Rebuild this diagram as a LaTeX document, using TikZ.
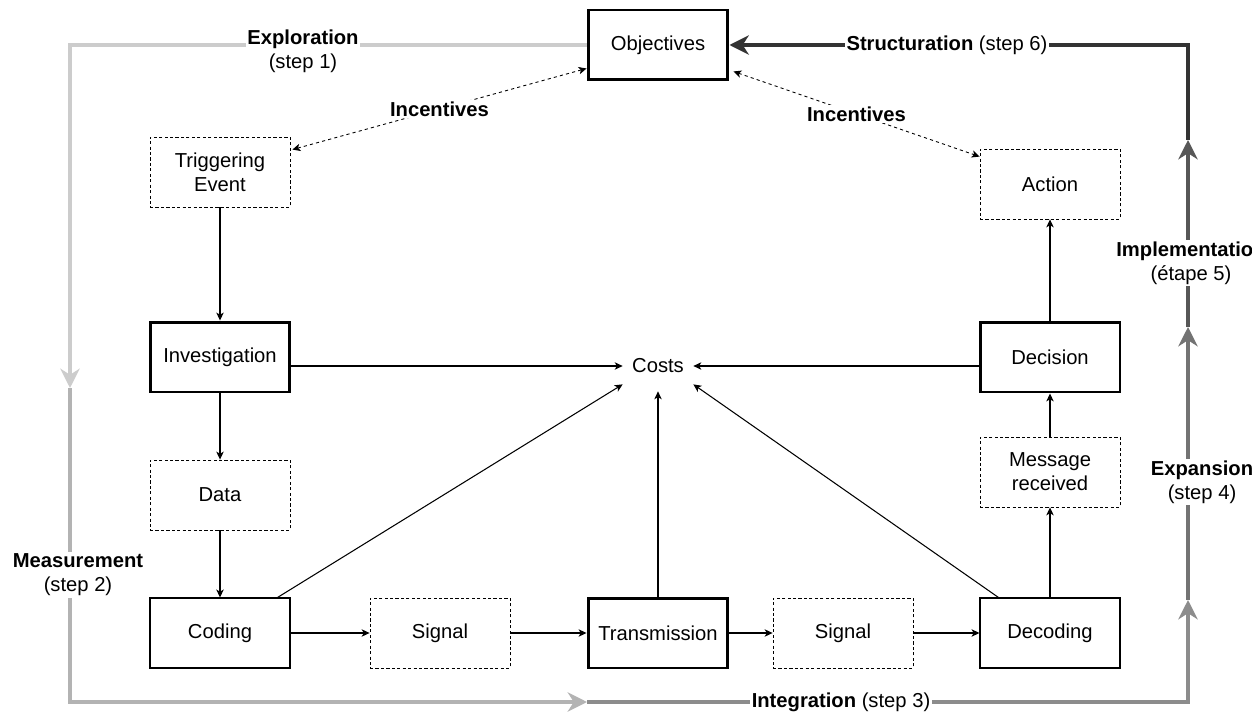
\documentclass[tikz,border=0pt]{standalone}
\usepackage{fontspec}
\setmainfont{Liberation Sans}
\usetikzlibrary{arrows.meta}

\definecolor{explorecol}{HTML}{CCCCCC}
\definecolor{measurecol}{HTML}{B3B3B3}
\definecolor{integratecol}{HTML}{8C8C8C}
\definecolor{expandcol}{HTML}{737373}
\definecolor{implementcol}{HTML}{575757}
\definecolor{structurecol}{HTML}{333333}

\begin{document}
\begin{tikzpicture}[x=0.02cm, y=-0.02cm,
    every node/.style={font=\fontsize{11.5}{13.5}\selectfont},
    box/.style={draw, line width=0.6pt, minimum width=2.8cm, minimum height=1.4cm, align=center, inner sep=2pt},
    keybox/.style={box, line width=1.7pt},
    softbox/.style={box, line width=0.5pt, dash pattern=on 1.8pt off 1.3pt},
    flow/.style={line width=0.6pt, -{Stealth[length=4.5pt, width=4.2pt, inset=1.2pt]}},
    incentive/.style={line width=0.5pt, dash pattern=on 1.8pt off 1.8pt,
        {Stealth[length=4.5pt, width=4.2pt, inset=1.2pt]}-{Stealth[length=4.5pt, width=4.2pt, inset=1.2pt]}},
    cycle/.style={line width=2pt, -{Stealth[length=11pt, width=11pt, inset=3.5pt]}},
    steplabel/.style={fill=white, inner sep=1pt, align=center}]

    \useasboundingbox (0, 0) rectangle (1252, 713);

    % boxes
    \node[keybox] (obj) at (658, 45) {Objectives};
    \node[softbox] (trig) at (220, 172) {Triggering\\Event};
    \node[softbox] (act) at (1050, 184) {Action};
    \node[keybox] (inv) at (220, 357) {Investigation};
    \node[keybox] (dcs) at (1050, 357) {Decision};
    \node[minimum width=1.4cm, minimum height=1cm] (cst) at (658, 366) {Costs};
    \node[softbox] (dat) at (220, 495) {Data};
    \node[softbox] (msg) at (1050, 472) {Message\\received};
    \node[box] (cod) at (220, 633) {Coding};
    \node[softbox] (sig1) at (440, 633) {Signal};
    \node[keybox] (trans) at (658, 633) {Transmission};
    \node[softbox] (sig2) at (843, 633) {Signal};
    \node[box] (dec) at (1050, 633) {Decoding};

    % outer cycle
    \coordinate (c1) at (70, 388);
    \coordinate (c2) at (587, 702);
    \coordinate (c3) at (1188, 600);
    \coordinate (c4) at (1188, 327);
    \coordinate (c5) at (1188, 140);

    \draw[cycle, explorecol] (obj.west) -| (c1);
    \draw[cycle, measurecol] (c1) |- (c2);
    \draw[cycle, integratecol] (c2) -| (c3);
    \draw[cycle, expandcol] (c3) -- (c4);
    \draw[cycle, implementcol] (c4) -- (c5);
    \draw[cycle, structurecol] (c5) |- (obj.east);

    \node[steplabel] (explore) at (303, 51) {\textbf{Exploration}\\(step 1)};
    \node[steplabel] (measure) at (78, 575) {\textbf{Measurement}\\(step 2)};
    \node[steplabel] (integrate) at (841, 702) {\textbf{Integration} (step 3)};
    \node[steplabel] (expand) at (1202, 482) {\textbf{Expansion}\\(step 4)};
    \node[steplabel] (implement) at (1191, 263) {\textbf{Implementation}\\(étape 5)};
    \node[steplabel] (structure) at (947, 45) {\textbf{Structuration} (step 6)};

    % incentives
    \draw[incentive] ([yshift=0.26cm]obj.south west) -- ([xshift=0.04cm, yshift=-0.26cm]trig.north east)
        node[midway, steplabel]{\textbf{Incentives}};
    \draw[incentive] ([xshift=0.08cm, yshift=0.2cm]obj.south east) -- ([yshift=-0.16cm]act.north west)
        node[midway, steplabel]{\textbf{Incentives}};

    % main flow
    \draw[flow] (trig) -- (inv);
    \draw[flow] (inv) -- (dat);
    \draw[flow] (dat) -- (cod);
    \draw[flow] (cod) -- (sig1);
    \draw[flow] (sig1) -- (trans);
    \draw[flow] (trans) -- (sig2);
    \draw[flow] (sig2) -- (dec);
    \draw[flow] (dec) -- (msg);
    \draw[flow] (msg) -- (dcs);
    \draw[flow] (dcs) -- (act);

    % costs
    \draw[flow] (inv.east |- cst) -- (cst);
    \draw[flow] (dcs.west |- cst) -- (cst);
    \draw[flow] (trans) -- (cst);
    \draw[flow] ([xshift=-0.26cm]cod.north east) -- ([yshift=0.14cm]cst.south west);
    \draw[flow] ([xshift=0.38cm]dec.north west) -- ([yshift=0.14cm]cst.south east);
\end{tikzpicture}
\end{document}
